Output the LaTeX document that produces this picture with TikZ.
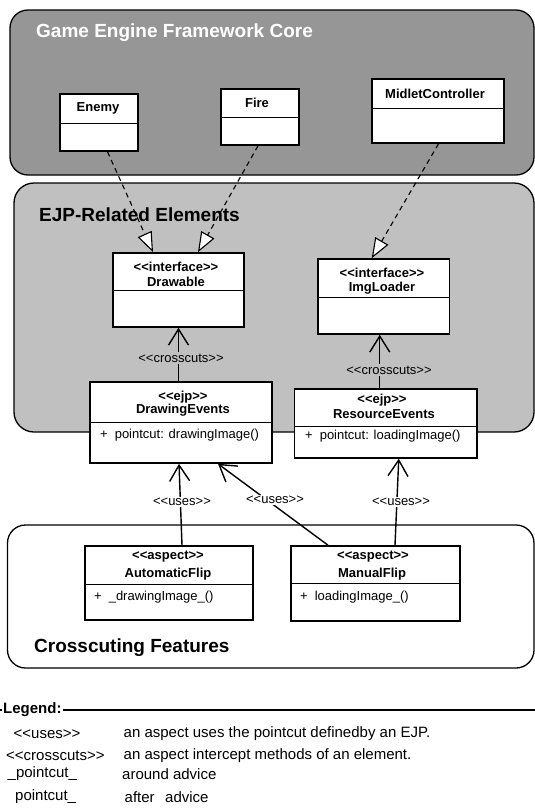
\documentclass[tikz,border=0pt]{standalone}
\usepackage{fontspec}
\setmainfont{Liberation Sans}
\usetikzlibrary{arrows.meta,fit}

\definecolor{coregray}{RGB}{150,150,150}
\definecolor{ejpgray}{RGB}{192,192,192}

% guillemet-free stereotype brackets
\newcommand{\sopen}{<{}<}
\newcommand{\sclose}{>{}>}

\tikzset{
  classbox/.style={draw=black, line width=1.6pt, fill=white, inner sep=0pt},
  divider/.style={draw=black, line width=0.9pt},
  container/.style={draw=black, line width=1.3pt},
  hdr/.style={font=\fontsize{13}{15}\selectfont\bfseries, inner sep=0pt},
  member/.style={font=\fontsize{13}{15}\selectfont, inner sep=0pt, anchor=west},
  stereo/.style={font=\fontsize{13}{15}\selectfont, inner sep=1.5pt},
  realizes/.style={line width=1.1pt, dash pattern=on 5pt off 4pt,
    -{Triangle[fill=white, length=20pt, width=15pt]}},
  depends/.style={line width=1.4pt, -{Straight Barb[length=16pt, width=20pt]}},
  grouptitle/.style={font=\fontsize{19}{22}\selectfont\bfseries, anchor=west, inner sep=0pt},
  legendtxt/.style={font=\fontsize{15}{18}\selectfont, anchor=west, inner sep=0pt},
}

% class box: name, x1, y1, x2, y2, y of the compartment line
\newcommand{\umlclass}[6]{%
  \node[classbox, fit={(#2,#3) (#4,#5)}] (#1) {};
  \draw[divider] (#2,#6) -- (#4,#6);
}

\begin{document}
\begin{tikzpicture}[x=1pt, y=-1pt]
\useasboundingbox (0,0) rectangle (535,812);

% ---------- Game Engine Framework Core ----------
\draw[container, fill=coregray, rounded corners=18pt] (10,10) rectangle (534,175);
\node[grouptitle, text=white] (coretitle) at (36,33) {Game Engine Framework Core};

\umlclass{enemy}{60}{94}{138}{151}{123}
\node[hdr] (enemyname) at (98,108) {Enemy};

\umlclass{fire}{221}{89}{299}{145}{117}
\node[hdr] (firename) at (257,103) {Fire};

\umlclass{midlet}{372}{79}{504}{143}{108}
\node[hdr] (midletname) at (435,94) {MidletController};

% ---------- EJP-Related Elements ----------
\draw[container, fill=ejpgray, rounded corners=20pt] (14,183) rectangle (534,432);
\node[grouptitle] (ejptitle) at (39,215) {EJP-Related Elements};

\umlclass{drawable}{113}{253}{244}{327}{290}
\node[hdr] (drawablest) at (176,267) {\sopen interface\sclose};
\node[hdr] (drawablename) at (176,282) {Drawable};

\umlclass{imgloader}{318}{259}{449.5}{334}{297}
\node[hdr] (imgloaderst) at (382,273) {\sopen interface\sclose};
\node[hdr] (imgloadername) at (382,288) {ImgLoader};

% ---------- Crosscuting Features ----------
\draw[container, fill=white, rounded corners=18pt] (7.5,525) rectangle (534,668);
\node[grouptitle] (cftitle) at (34,648) {Crosscuting Features};

% EJP classes (they overhang the grey group)
\umlclass{drawev}{90}{382}{272}{463}{422}
\node[hdr] (drawevst) at (183,397) {\sopen ejp\sclose};
\node[hdr] (drawevname) at (183,410) {DrawingEvents};
\node[member] (drawevop) at (100,435) {+\hspace{7pt}pointcut: drawingImage()};

\umlclass{resev}{294.5}{389}{477}{458}{426}
\node[hdr] (resevst) at (382,400) {\sopen ejp\sclose};
\node[hdr] (resevname) at (384,414) {ResourceEvents};
\node[member] (resevop) at (305,436) {+\hspace{7pt}pointcut: loadingImage()};

% aspects
\umlclass{autoflip}{85}{546}{253}{620}{584}
\node[hdr] (autoflipst) at (168,557) {\sopen aspect\sclose};
\node[hdr] (autoflipname) at (168,574) {AutomaticFlip};
\node[member] (autoflipop) at (94,597) {+\hspace{7pt}\_drawingImage\_()};

\umlclass{manflip}{291}{546}{460}{621}{583}
\node[hdr] (manflipst) at (373,557) {\sopen aspect\sclose};
\node[hdr] (manflipname) at (372,574) {ManualFlip};
\node[member] (manflipop) at (300,597) {+\hspace{7pt}loadingImage\_()};

% ---------- realizations (dashed, hollow triangle) ----------
\draw[realizes] ([xshift=8.5pt]enemy.south) -- ([xshift=-25.5pt]drawable.north);
\draw[realizes] ([xshift=-2pt]fire.south) -- ([xshift=19.5pt]drawable.north);
\draw[realizes] ([xshift=0.5pt]midlet.south) -- ([xshift=-12pt]imgloader.north);

% ---------- crosscuts ----------
\draw[depends] (drawev.north -| drawable.south) -- (drawable.south);
\node[stereo, fill=ejpgray] (cc1) at (181,358) {\sopen crosscuts\sclose};
\draw[depends] ([xshift=-4pt]resev.north -| imgloader.south) -- ([xshift=-4pt]imgloader.south);
\node[stereo, fill=ejpgray] (cc2) at (389,370) {\sopen crosscuts\sclose};

% ---------- uses ----------
\draw[depends] ([xshift=13pt]autoflip.north) -- ([xshift=-2pt]drawev.south);
\node[stereo, fill=white] (uses1) at (182,502) {\sopen uses\sclose};
\draw[depends] ([xshift=-47.5pt]manflip.north) -- ([xshift=37pt]drawev.south);
\node[stereo, fill=white] (uses2) at (275,500) {\sopen uses\sclose};
\draw[depends] ([xshift=19.5pt]manflip.north) -- ([xshift=13pt]resev.south);
\node[stereo, fill=white] (uses3) at (401,502) {\sopen uses\sclose};

% ---------- legend ----------
\coordinate (legl) at (0,710);
\coordinate (legr) at (535,710);
\draw[line width=1.2pt] (legl) -- (legr);
\node[legendtxt, font=\fontsize{15}{18}\selectfont\bfseries, fill=white, inner sep=1pt] (legend) at (2,710) {Legend:};

\node[legendtxt] (l1a) at (13.5,734) {\sopen uses\sclose};
\node[legendtxt] (l1b) at (123.5,734) {an aspect uses the pointcut definedby an EJP.};
\node[legendtxt] (l2a) at (6,756) {\sopen crosscuts\sclose};
\node[legendtxt] (l2b) at (123.5,756) {an aspect intercept methods of an element.};
\node[legendtxt] (l3a) at (7.5,774) {\_pointcut\_};
\node[legendtxt] (l3b) at (122,774) {around advice};
\node[legendtxt] (l4a) at (15,797) {pointcut\_};
\node[legendtxt] (l4b) at (124.5,797) {after\hspace{10.5pt}advice};
\end{tikzpicture}
\end{document}
